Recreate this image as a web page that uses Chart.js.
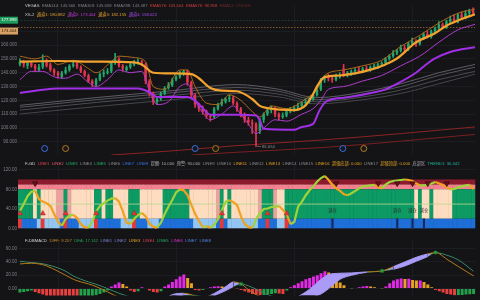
<!DOCTYPE html>
<html>
<head>
<meta charset="utf-8">
<title>VEGAS / F-GD / F-DBMACD</title>
<script src="https://cdn.jsdelivr.net/npm/chart.js@4.4.1/dist/chart.umd.min.js"></script>
<style>
  html, body { margin: 0; padding: 0; background: #141417; }
  #wrap { position: relative; width: 480px; height: 300px; overflow: hidden; background: #141417; }
  canvas { position: absolute; left: 0; }
</style>
</head>
<body>
<div id="wrap">
  <canvas id="priceChart" width="480" height="160" style="top:0px"></canvas>
  <canvas id="oscChart" width="480" height="75" style="top:160px"></canvas>
  <canvas id="macdChart" width="480" height="65" style="top:235px"></canvas>
</div>
<script>
// ---------- price panel data (one candle per index) ----------
const opens = [146,148,145,147,145,142,144,149,146,142, 140,137,140,142,145,147,144,141,138,134,
  131,135,139,140,141,147,150,145,142,144, 146,147,148,146,134,125,119,121,125,129,
  131,135,137,139,141,133,124,117,114,112, 109,108,114,117,119,121,122,118,114,110,
  106,104,103,98,106,110,113,114,110,108, 109,112,113,115,116,118,119,121,124,128,
  135,137,136,135,137,143,139,140,141,142, 141,143,142,144,145,146,147,150,152,154,
  156,158,157,161,163,161,165,168,166,170, 172,175,173,177,179,177,182,180,183,185]
const highs = [150,149,148,148,146,146,153,150,147,143, 141,141,144,146,148,148,145,142,139,135,
  136,140,142,143,148,154,151,146,145,147, 149,150,149,147,135,126,123,126,130,133,
  136,138,141,142,142,134,125,118,116,113, 110,115,118,121,122,124,123,119,115,111,
  108,106,104,107,111,115,116,115,111,111, 113,115,116,118,119,121,122,125,129,136,
  138,139,137,139,140,146,141,142,143,144, 144,145,145,146,147,148,151,153,156,157,
  160,160,162,165,164,166,169,170,171,173, 177,176,178,181,182,183,184,185,186,187]
const lows = [145,144,143,144,141,141,143,144,141,138, 136,136,139,141,144,143,140,137,133,130,
  130,134,137,139,140,146,144,141,141,143, 145,146,145,132,123,117,117,120,124,128,
  130,134,136,138,131,122,115,112,110,107, 105,107,113,116,118,119,117,112,108,104,
  102,96,86.654,96,104,109,111,108,106,107, 108,111,112,114,115,117,118,120,123,127,
  133,134,133,134,136,137,137,138,139,140, 140,141,141,143,143,145,146,149,151,153,
  155,155,156,160,159,160,164,165,165,169, 171,172,172,176,176,176,179,179,182,182]
const closes = [148,146,147,145,143,144,149,145,142,140, 138,140,142,145,146,144,141,138,134,132,
  135,139,140,141,147,150,145,143,144,146, 147,148,147,134,125,119,121,125,129,131,
  135,137,139,141,133,124,117,114,112,109, 108,114,117,119,121,122,118,114,110,106,
  104,103,98,106,110,113,114,110,108,109, 112,113,115,116,118,119,121,124,128,135,
  137,136,135,137,138,139,140,141,142,141, 143,142,144,145,146,147,150,152,154,156,
  158,157,161,163,161,165,168,166,170,172, 175,173,177,179,177,182,180,183,185,183]

// indicator lines as [index, value] knots
const channel2 = [[0,148],[10,148.5],[20,148],[30,147.5],[32,146],[35,140],[40,139.5],[45,139],[47,136],
  [50,129],[53,127],[57,126.6],[61,121],[63,116],[65,114.4],[72,113],[75,116.4],[77,124.6],[78,130],
  [80,136.8],[84,138],[88,139.5],[93,143],[96,146],[99,150.3],[104,161.9],[109,168.6],[112,174],
  [116,178.8],[119.5,182.2]]
const channel4 = [[0,125.3],[5,127.3],[10,128.6],[31,128.6],[34,126],[36,122.5],[44,122.5],[46,119.8],
  [48,114.4],[50,109.7],[57,109.7],[62,109],[63,105.6],[64,99.5],[72,98.8],[74,100.8],[77,103],
  [78.6,112.4],[80.4,119.2],[85.6,122],[93.4,126],[96,128],[98.6,131.4],[104,140],[106.5,145.6],
  [109,150.3],[113,155],[119.5,158.5]]
const channel3 = [[0,135],[3,141],[6,141],[9,137],[12,136],[15,139],[18,133],[20,130],[23,135],[26,142],
  [29,140],[32,141],[34,127],[36,117],[39,119],[42,130],[44,132],[46,120],[48,111],[50,106],[53,110],
  [56,116],[58,110],[60,103],[62,96],[64,100],[67,106],[70,105],[74,110],[77,114],[79,120],[81,128],
  [85,130],[90,134],[95,138],[100,145],[105,152],[110,162],[115,171],[119.5,175]]
const channel1 = [[0,152],[4,150],[7,152],[10,146],[14,149],[18,143],[20,140],[24,148],[26,152],[30,151],
  [33,148],[35,130],[38,128],[42,142],[44,142],[46,130],[49,118],[52,117],[55,124],[58,120],[61,112],
  [63,108],[66,116],[70,114],[75,121],[78,128],[80,138],[85,142],[90,145],[95,149],[100,159],
  [105,167],[110,176],[115,183],[119.5,186]]
const ema144 = [[0,116.4],[20,122],[40,127],[57,131.4],[68,128],[78,122],[90,126],[100,132],[110,140],[119.5,146]]
const ema169 = [[0,115],[20,120.5],[40,125.5],[57,129.3],[68,126.5],[78,120.5],[90,124.5],[100,130],[110,138],[119.5,144]]
const ema288 = [[0,113],[20,118.5],[40,123.5],[57,127.3],[68,124.5],[78,119],[90,122.5],[100,127.5],[110,135],[119.5,141]]
const ema338 = [[0,110.2],[20,115.5],[40,120.5],[57,125],[68,122.5],[78,117.5],[90,120.5],[100,125],[110,132],[119.5,139]]
const ema576 = [[24,80.5],[40,83.5],[57,87.3],[80,91.5],[100,96],[119.5,100.8]]
const ema676 = [[45,80.5],[57,82.5],[80,86],[100,90.5],[119.5,95.4]]
const blueMarks = [6.5, 46, 84.8]
const goldMarks = [12, 51.4, 90.3]
const markLevel = 85.2
const lastPrice = 177.999
const channel2Last = 173.404
const priceTicks = [90, 100, 110, 120, 130, 140, 150, 160, 170]
const gridIdx = [10, 41, 72, 103]

// ---------- F-GD panel ----------
const osc = [36,50,66,75,77,60,55,52,46,30, 14,6,20,27,28,22,9,3,2,14,
  35,46,52,57,61,62,55,35,12,10, 20,28,32,25,10,4,2,12,30,45,
  59,74,80,78,68,48,30,15,3,5, 2,8,20,38,55,58,54,48,25,9,
  3,2,20,32,40,41,44,45,46,38, 29,9,14,45,55,68,78,86,96,103,
  107,99,89,82,77,70,68,72,77,82, 86,87,88,89,85,82,90,95,97,98,
  99,100,99,97,92,88,88,89,92,95, 92,89,84,80,81,84,86,88,89,80]
// zone per index: g = green, p = peach, r = salmon
const zones = ('ggggpgpppp' + 'rrgrpppppp' + 'ggpggppppg' + 'ggppppppgg' + 'gggggppppp' +
  'pprgpgpppp' + 'ppprgggrpp' + 'gggggggggg' + 'gggggggggg' + 'gggggggggg' +
  'ggggpgppgp' + 'ppppgggggg').split('')
// bottom strip per index: b = blue, l = light, x = signal
const strip = ('xbbbblxlll' + 'lbxbbbllll' + 'xbbbbbblll' + 'xbbblllbbb' + 'bbbbbbllll' +
  'llbxblllll' + 'lllbbxbbll' + 'xbbbbbbbbb' + 'bbbbbbbbbb' + 'bbbbbbbbbb' +
  'bbbbbbbbbb' + 'bbbbbbbbbb').split('')
const bandEdges = [0, 20, 80, 90, 100]
const reduceIdx = [82, 99, 103, 106]
const topMarkIdx = [4, 83, 94, 99, 103, 107, 112]
const midLevel = 50
const oscTicks = [0, 40, 80, 120]

// ---------- F-DBMACD panel ----------
const histVals = [-6,-5,-4,-3,-5,-7,-9,-11,-12,-13, -14,-14,-15,-15,-16,-16,-15,-14,-13,-12,
  -10,-8,-6,-3,3,6,9,7,3,-3, -5,-4,2,1,-3,-5,-6,-4,3,6,
  10,14,18,21,16,8,-2,-3,-2,1, 2,3,3.5,3,2.5,2,1,0.5,-2,-4,
  -6,-8,-9,-10,-9.5,-9,-8,-7,-7.5,-8, -3,2,5,8,11,14,16,18,20,23,
  26,24,19,14,9,5,1,0.5,1,2, 3,4,3,2,1,0.5,3,8,12,14,
  15,14.5,14.8,13,12,12.3,10,6,2,-2, -4,-6,-8,-9,-10,-9.8,-9.5,-9,-8.5,-8]
const macdIdx = [0,3,5,7,10,12,14,16,18,20, 23,26,30,34,38,40,43,46,48,50,
  52,54,56,58,60,62,64,68,71,73, 75,77,79,81,84,87,91,95,98,101, 104,107,109,112,115,119]
const diffVals = [37,38,37,34,26,20,14,10,7,3, -5,-13,-18,-20,-15,-9,-7,-11,-14,-10,
  -4,3,10,7,-2,-9,-16,-22,-20,-12, -5,4,14,21,23,23.5,25,26.5,33,40, 47,52,54,44,33,19]
const deaVals = [41,39,38,36,31,26,19,14,10,6.5, 0,-7,-14,-17,-17,-13,-10,-10,-12,-12,
  -8,-3,3,7,4,-1,-7,-14,-17,-17, -15,-12,-8,0,14,20,24.5,26.5,29,34, 41,48,54,50,43,26]
const crossMarks = [[58, 7], [95, 26.5], [109, 54]]
const macdTicks = [0, 20, 40, 60]

// ---------- helpers ----------
const idx = closes.map((_, i) => i)
const pts = arr => arr.map(([x, y]) => ({x, y}))
const FONT = '"Liberation Sans", Arial, "Noto Sans CJK SC", sans-serif'
const UP = '#22a86c', DOWN = '#e5344d'
const LAV = '#a99bf6'

function axes(min, max, ticks, digits) {
  return {
    x: {
      type: 'linear', min: -0.5, max: 119.5, offset: false,
      grid: {color: '#1c1d22', drawTicks: false, offset: false},
      border: {display: false},
      ticks: {display: false},
      afterBuildTicks: s => { s.ticks = gridIdx.map(v => ({value: v})) }
    },
    y: {
      min, max, position: 'left',
      grid: {color: '#1c1d22', drawTicks: false},
      border: {display: false},
      ticks: {color: '#7e8087', font: {size: 4.5, family: FONT}, padding: 1,
        callback: v => Number(v).toFixed(digits)},
      afterBuildTicks: s => { s.ticks = ticks.map(v => ({value: v})) },
      afterFit: s => { s.width = 18; s.paddingTop = 0; s.paddingBottom = 0 }
    }
  }
}

function textRows(id, rows) {
  return {
    id,
    afterDraw(chart) {
      const c = chart.ctx
      c.save()
      c.font = '4.2px ' + FONT
      c.textBaseline = 'middle'
      rows.forEach(row => {
        let x = 25
        row.items.forEach(([t, col]) => {
          c.fillStyle = col
          c.fillText(t, x, row.y)
          x += c.measureText(t).width + 2.5
        })
      })
      c.restore()
    }
  }
}

const baseOpts = {
  responsive: false, animation: false, devicePixelRatio: 1, events: [],
  layout: {padding: 0},
  plugins: {legend: {display: false}, tooltip: {enabled: false}}
}

// ---------- price chart ----------
const candleColor = idx.map(i => closes[i] >= opens[i] ? UP : DOWN)
const lineSet = (data, color, width, order) => ({
  type: 'line', data: pts(data), borderColor: color, borderWidth: width,
  pointRadius: 0, tension: 0.3, cubicInterpolationMode: 'monotone', fill: false, order
})

const priceDecor = {
  id: 'priceDecor',
  beforeDatasetsDraw(chart) {
    const {ctx, chartArea: a, scales: {y}} = chart
    ctx.save()
    ctx.setLineDash([1.5, 1.5])
    ctx.lineWidth = 0.8;
    [[lastPrice, '#1d4d35'], [channel2Last, '#9c6a33']].forEach(([v, col]) => {
      const py = Math.round(y.getPixelForValue(v)) + 0.5
      ctx.strokeStyle = col
      ctx.beginPath(); ctx.moveTo(a.left, py); ctx.lineTo(a.right, py); ctx.stroke()
    })
    ctx.restore()
  },
  afterDraw(chart) {
    const {ctx, scales: {x, y}} = chart
    ctx.save()
    ctx.font = '4.2px ' + FONT
    ctx.textBaseline = 'middle'
    ctx.textAlign = 'center';
    [[lastPrice, '#1e9c5d', '#ffffff', 0], [channel2Last, '#d9a064', '#2a1c0c', 4.5]].forEach(([v, bg, fg, shift]) => {
      const py = y.getPixelForValue(v) + shift
      ctx.fillStyle = bg
      ctx.fillRect(0, py - 3.5, 18, 7)
      ctx.fillStyle = fg
      ctx.fillText(v.toFixed(3), 9, py)
    })
    // lowest low label
    const lo = Math.min(...lows), li = lows.indexOf(lo)
    const px = x.getPixelForValue(li), py = y.getPixelForValue(lo)
    ctx.strokeStyle = '#8a8b90'; ctx.lineWidth = 0.6
    ctx.beginPath(); ctx.moveTo(px + 1, py); ctx.lineTo(px + 5, py); ctx.stroke()
    ctx.fillStyle = '#8a8b90'; ctx.textAlign = 'left'
    ctx.fillText(lo.toFixed(3), px + 6, py)
    ctx.restore()
  }
}

new Chart(document.getElementById('priceChart'), {
  type: 'bar',
  data: {
    datasets: [
      lineSet(ema144, '#5d5e64', 1, 9),
      lineSet(ema169, '#55565c', 1, 9),
      lineSet(ema288, '#4c4d53', 1, 9),
      lineSet(ema338, '#45464b', 1, 9),
      lineSet(ema576, '#8c2424', 1, 9),
      lineSet(ema676, '#7a1f22', 1, 9),
      {type: 'bar', data: idx.map(i => ({x: i, y: [lows[i], highs[i]]})), backgroundColor: candleColor,
        barThickness: 1, grouped: false, order: 7},
      {type: 'bar', data: idx.map(i => ({x: i, y: [opens[i], closes[i]]})), backgroundColor: candleColor,
        barPercentage: 0.65, categoryPercentage: 1, minBarLength: 0.8, grouped: false, order: 6},
      lineSet(channel1, '#a8691c', 1, 4),
      lineSet(channel3, '#b03ccc', 1, 4),
      lineSet(channel4, '#a12fe6', 2, 3),
      lineSet(channel2, '#f2a22e', 2.2, 3),
      {type: 'scatter', data: blueMarks.map(v => ({x: v, y: markLevel})), pointRadius: 3,
        pointBorderColor: '#3b6fd6', pointBackgroundColor: '#141722', pointBorderWidth: 1, order: 1},
      {type: 'scatter', data: goldMarks.map(v => ({x: v, y: markLevel})), pointRadius: 3,
        pointBorderColor: '#b07a26', pointBackgroundColor: '#1c1812', pointBorderWidth: 1, order: 1}
    ]
  },
  options: {...baseOpts, scales: axes(80.51, 188.98, priceTicks, 3)},
  plugins: [priceDecor, textRows('priceText', [
    {y: 6, items: [['VEGAS', '#c9c9cc'], ['EMA144: 145.566', '#7f8086'], ['EMA169: 145.658', '#7f8086'],
      ['EMA288: 143.487', '#7f8086'], ['EMA576: 105.504', '#d13a3a'], ['EMA676: 96.958', '#d13a3a'],
      ['EMA12: 178.001', '#6e2a2a']]},
    {y: 15, items: [['XS-2', '#c9c9cc'], ['通道1: 180.882', '#e2a12e'], ['通道2: 173.404', '#c53ad9'],
      ['通道3: 182.155', '#e2a12e'], ['通道4: 158.022', '#a34cf0']]}
  ])]
})

// ---------- F-GD chart ----------
const ZONE = {g: '#0d9a63', p: '#fddcc0', r: '#e9a29e'}
const STRIP = {b: '#1f6fd8', l: '#93c6f0', x: '#e5383b'}
const band = (lo, hi) => idx.map(i => ({x: i, y: [lo, hi]}))
const bandSet = (lo, hi, colors) => ({type: 'bar', data: band(lo, hi), backgroundColor: colors,
  barPercentage: 1.12, categoryPercentage: 1, grouped: false, order: 10})
const signalIdx = idx.filter(i => strip[i] === 'x')

const oscDecor = {
  id: 'oscDecor',
  afterDatasetsDraw(chart) {
    const {ctx, scales: {x, y}} = chart
    ctx.save()
    ctx.font = '4.2px ' + FONT
    ctx.fillStyle = '#2b2b2b'
    ctx.textAlign = 'center'
    ctx.textBaseline = 'middle'
    reduceIdx.forEach(i => ctx.fillText('减仓', x.getPixelForValue(i), y.getPixelForValue(36)))
    ctx.restore()
  }
}

new Chart(document.getElementById('oscChart'), {
  type: 'bar',
  data: {
    datasets: [
      bandSet(bandEdges[0], bandEdges[1], strip.map(c => STRIP[c])),
      bandSet(bandEdges[1], bandEdges[2], zones.map(c => ZONE[c])),
      bandSet(bandEdges[2], bandEdges[3], '#f3818f'),
      bandSet(bandEdges[3], bandEdges[4], '#8d1b2d'),
      {type: 'bar', data: reduceIdx.map(i => ({x: i, y: [bandEdges[0], bandEdges[1]]})),
        backgroundColor: '#16295c', barThickness: 1.5, grouped: false, order: 9},
      {type: 'line', data: [{x: -0.5, y: midLevel}, {x: 119.5, y: midLevel}], borderColor: '#b9d98f',
        borderWidth: 0.8, pointRadius: 0, order: 8},
      {type: 'line', data: idx.map(i => ({x: i, y: osc[i]})), borderWidth: 2.2, pointRadius: 0, tension: 0,
        borderColor: '#9fd33a',
        segment: {borderColor: c => c.p1.parsed.y < c.p0.parsed.y ? '#f0a11f' : '#9fd33a'}, order: 3},
      {type: 'scatter', data: signalIdx.map(i => ({x: i, y: 31})), pointStyle: 'triangle', pointRadius: 3,
        pointBackgroundColor: '#e8373c', pointBorderColor: '#a81e22', pointBorderWidth: 0.5, order: 1},
      {type: 'scatter', data: topMarkIdx.map(i => ({x: i, y: 92})), pointStyle: 'triangle', pointRotation: 180,
        pointRadius: 3.2, pointBackgroundColor: '#6a0f1c', pointBorderColor: '#2a0a0e', pointBorderWidth: 0.6, order: 1}
    ]
  },
  options: {...baseOpts, scales: axes(-3.57, 130.36, oscTicks, 2)},
  plugins: [oscDecor, textRows('oscText', [
    {y: 3.5, items: [['F-GD', '#d6d6d8'], ['LINE1', '#e0404f'], ['LINE2', '#e0606e'], ['LINE3', '#20b062'],
      ['LINE4', '#8d8e93'], ['LINE5', '#20b062'], ['LINE6', '#8d8e93'], ['LINE7', '#3572e0'],
      ['LINE8', '#3572e0'], ['提醒: 10.000', '#a8a8ac'], ['预警: 90.000', '#a8a8ac'], ['LINE9', '#8d8e93'],
      ['LINE10', '#8d8e93'], ['LINE11', '#e0a020'], ['LINE12', '#8d8e93'], ['LINE13', '#e0a020'],
      ['LINE14', '#8d8e93'], ['LINE15', '#8d8e93'], ['LINE16', '#e0a020'], ['超级底部: 0.000', '#e0a020'],
      ['LINE17', '#8d8e93'], ['超级顶部: 0.000', '#e0a020'], ['底部区', '#a8a8ac'], ['TREND1: 30.442', '#22b3a0']]}
  ])]
})

// ---------- F-DBMACD chart ----------
const histColor = histVals.map((v, i) => {
  const prev = i ? histVals[i - 1] : -Infinity
  return v >= 0 ? (v >= prev ? '#e22ae6' : '#e6a323') : (v <= prev ? '#e7413f' : '#22a04a')
})
const above = (i) => diffVals[i] > deaVals[i]

new Chart(document.getElementById('macdChart'), {
  type: 'bar',
  data: {
    datasets: [
      {type: 'bar', data: idx.map(i => ({x: i, y: histVals[i]})), backgroundColor: histColor,
        barPercentage: 0.78, categoryPercentage: 1, grouped: false, order: 5},
      {type: 'line', data: macdIdx.map((x, k) => ({x, y: diffVals[k]})), borderColor: '#b57a1c', borderWidth: 1,
        pointRadius: 0, cubicInterpolationMode: 'monotone',
        fill: {target: '+1', above: LAV, below: 'rgba(0,0,0,0)'},
        segment: {borderColor: c => above(c.p0DataIndex) && above(c.p1DataIndex) ? LAV : '#b57a1c'}, order: 3},
      {type: 'line', data: macdIdx.map((x, k) => ({x, y: deaVals[k]})), borderColor: '#1e7d40', borderWidth: 1,
        pointRadius: 0, cubicInterpolationMode: 'monotone', fill: false,
        segment: {borderColor: c => above(c.p0DataIndex) && above(c.p1DataIndex) ? LAV : '#1e7d40'}, order: 3},
      {type: 'scatter', data: pts(crossMarks), pointStyle: 'rect', pointRadius: 2.2,
        pointBackgroundColor: '#2e9e3e', pointBorderColor: '#1b6a28', pointBorderWidth: 0.5, order: 1}
    ]
  },
  options: {...baseOpts, scales: axes(-10.32, 73.55, macdTicks, 2)},
  plugins: [textRows('macdText', [
    {y: 6, items: [['F-DBMACD', '#d6d6d8'], ['DIFF: 9.207', '#c08a22'], ['DEA: 17.142', '#22a052'],
      ['LINE1', '#7f7fd0'], ['LINE2', '#7f7fd0'], ['LINE3', '#e0a020'], ['LINE4', '#e0404f'],
      ['LINE5', '#20b062'], ['LINE6', '#d030d0'], ['LINE7', '#4f80e0'], ['LINE8', '#4f80e0']]}
  ])]
})
</script>
</body>
</html>
